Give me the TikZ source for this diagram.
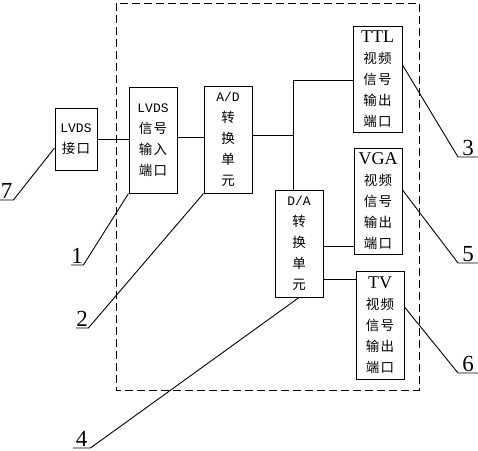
\documentclass[tikz,border=0pt]{standalone}
\usepackage{fontspec}
\setmainfont{Liberation Serif}
\newfontfamily\cjkfont[LetterSpace=8]{Noto Sans CJK SC}
\newfontfamily\monofont{Liberation Mono}
\usetikzlibrary{positioning}
\tikzset{
    unit/.style={draw=black, line width=1pt, inner sep=0pt, align=center,
        font=\fontsize{13.5}{21}\selectfont\cjkfont},
    frame/.style={draw=black, line width=1pt, dash pattern=on 8pt off 4pt},
    wire/.style={draw=black, line width=1pt},
    leader/.style={draw=black, line width=0.9pt},
    num/.style={inner xsep=0pt, inner ysep=1.5pt, anchor=south west,
        font=\fontsize{23}{23}\selectfont},
}
\newcommand*\bigname[1]{{\fontsize{18}{20}\selectfont\rmfamily #1}}
\newcommand*\smallname[1]{{\fontsize{13}{15}\selectfont\monofont #1}}

\begin{document}
\begin{tikzpicture}[x=1pt, y=-1pt]
	\useasboundingbox (0,0) rectangle (478,450);
	% dashed frame of the converter
	\draw[frame] (116,3) rectangle (419,390);
	% units
	\node[unit, minimum width=42, minimum height=62] (lvds) at (76,139) {\smallname{LVDS}\\接口};
	\node[unit, minimum width=48, minimum height=106] (inport) at (153,140) {\smallname{LVDS}\\信号\\输入\\端口};
	\node[unit, minimum width=48, minimum height=107] (ad) at (228,139.5) {\smallname{A/D}\\转\\换\\单\\元};
	\node[unit, minimum width=48, minimum height=107] (da) at (299,243.5) {\smallname{D/A}\\转\\换\\单\\元};
	\node[unit, minimum width=49, minimum height=106] (ttl) at (377.5,79) {\bigname{TTL}\\视频\\信号\\输出\\端口};
	\node[unit, minimum width=48, minimum height=106] (vga) at (378,201) {\bigname{VGA}\\视频\\信号\\输出\\端口};
	\node[unit, minimum width=48, minimum height=108] (tv) at (380,325) {\bigname{TV}\\视频\\信号\\输出\\端口};
	\coordinate (jn) at (293,135);
	% wires
	\draw[wire] (lvds.east) -- (lvds.east -| inport.west);
	\draw[wire] (inport.east |- 0,137) -- (ad.west |- 0,137);
	\draw[wire] (jn -| ad.east) -- (jn);
	\draw[wire] (jn |- da.north) -- (jn |- 0,80) -- (ttl.west |- 0,80);
	\draw[wire] (da.east |- 0,246) -- (vga.west |- 0,246);
	\draw[wire] (da.east |- 0,279) -- (tv.west |- 0,279);
	% reference numbers
	\node[num, minimum width=13] (n7) at (0,200) {7};
	\node[num, minimum width=12] (n1) at (71,265) {1};
	\node[num, minimum width=12] (n2) at (76,328) {2};
	\node[num, minimum width=17] (n4) at (73,448) {4};
	\node[num, minimum width=20] (n3) at (458,157) {3};
	\node[num, minimum width=20] (n5) at (458,263) {5};
	\node[num, minimum width=20] (n6) at (458,373) {6};
	\draw[leader] (lvds.west |- 0,148) -- (n7.south east) -- (n7.south west);
	\draw[leader] (inport.south west) -- (n1.south east) -- (n1.south west);
	\draw[leader] (ad.south west) -- (n2.south east) -- (n2.south west);
	\draw[leader] (da.south) -- (n4.south east) -- (n4.south west);
	\draw[leader] (ttl.east |- 0,65) -- (n3.south west) -- (n3.south east);
	\draw[leader] (vga.east |- 0,190) -- (n5.south west) -- (n5.south east);
	\draw[leader] (tv.east |- 0,307) -- (n6.south west) -- (n6.south east);
\end{tikzpicture}
\end{document}
